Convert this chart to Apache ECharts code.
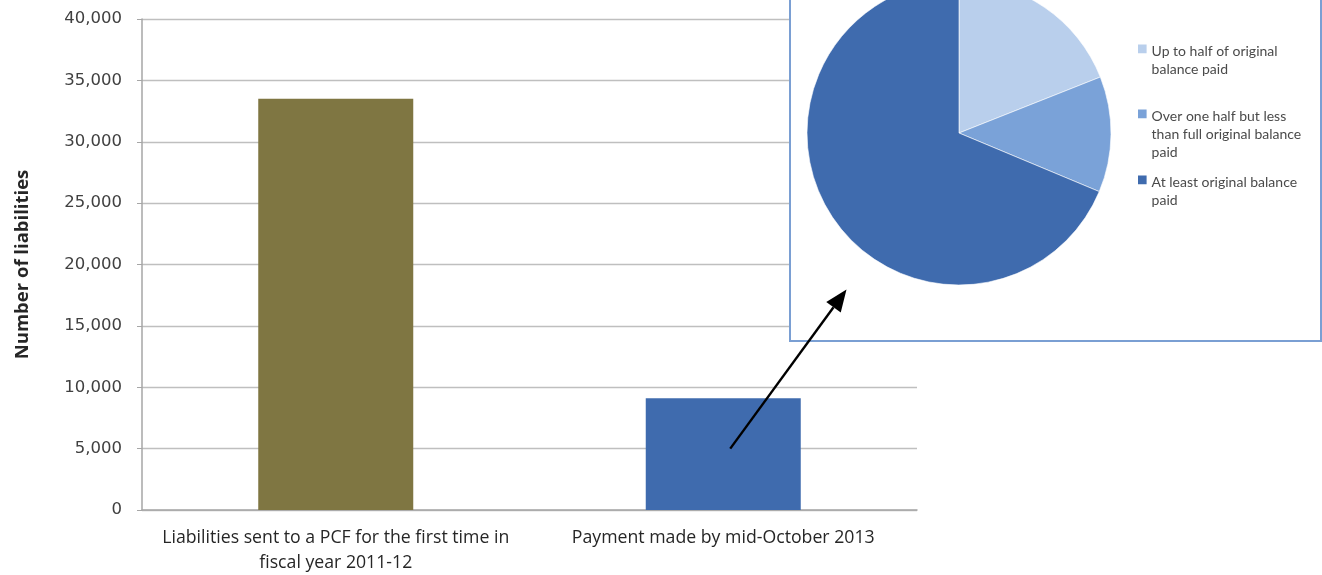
<!DOCTYPE html>
<html>
<head>
<meta charset="utf-8">
<script src="https://cdn.jsdelivr.net/npm/echarts@6/dist/echarts.min.js"></script>
<style>
html,body{margin:0;padding:0;background:#fff;}
#chart{width:1322px;height:575px;}
</style>
</head>
<body>
<div id="chart"></div>
<script>
// ---- data ----
const categories = ['Liabilities sent to a PCF for the first time in\nfiscal year 2011-12', 'Payment made by mid-October 2013'];
const barValues = [33500, 9100];
const yTicks = [0, 5000, 10000, 15000, 20000, 25000, 30000, 35000, 40000];
const pieNames = ['Up to half of original balance paid', 'Over one half but less than full original balance paid', 'At least original balance paid'];
const pieLabels = ['Up to half of original\nbalance paid', 'Over one half but less\nthan full original balance\npaid', 'At least original balance\npaid'];
const pieValues = [19, 12.3, 68.7];
const yAxisName = 'Number of liabilities';

const barColors = ['#7f7642', '#3f6bae'];
const pieColors = ['#b9cfec', '#7aa2d8', '#3f6bae'];

const chart = echarts.init(document.getElementById('chart'));

function legendIcon(lines) {
  const h = lines * 18.2;
  return { icon: 'path://M0,5.1h8.6v8.6h-8.6z M0,' + (h - 0.05) + 'h0.05v0.05h-0.05z', h: h };
}
const legendTops = [42, 107, 173];
const legends = pieNames.map((n, i) => {
  const lines = pieLabels[i].split('\n').length;
  const ic = legendIcon(lines);
  return {
    data: [{ name: n, icon: ic.icon }],
    left: 1138, top: legendTops[i], orient: 'vertical', z: 30,
    itemWidth: 8.6, itemHeight: ic.h, itemGap: 0, padding: 0,
    selectedMode: false,
    itemStyle: { borderWidth: 0 },
    formatter: () => pieLabels[i],
    textStyle: { fontFamily: 'Lato', fontSize: 14, color: '#4a4a4a', lineHeight: 18.2 }
  };
});

const option = {
  animation: false,
  backgroundColor: '#fff',
  grid: { left: 142, right: 405, top: 19, bottom: 64 },
  xAxis: {
    type: 'category',
    data: categories,
    axisLine: { lineStyle: { color: '#a6a6a6', width: 1.5 } },
    axisTick: { show: false },
    axisLabel: { interval: 0, fontFamily: 'Open Sans', fontSize: 17.7, color: '#262626', lineHeight: 25, margin: 15 }
  },
  yAxis: {
    type: 'value', min: yTicks[0], max: yTicks[yTicks.length - 1], interval: 5000,
    name: yAxisName, nameLocation: 'middle', nameGap: 110, nameRotate: 90,
    nameTextStyle: { fontFamily: 'Open Sans', fontSize: 18.5, fontWeight: 'bold', color: '#262626' },
    axisLine: { show: true, lineStyle: { color: '#a6a6a6', width: 1.5 } },
    axisTick: { show: true, length: 5, lineStyle: { color: '#a6a6a6' } },
    axisLabel: { fontFamily: 'DejaVu Sans', fontSize: 16.5, color: '#404040', margin: 20,
      formatter: v => v.toLocaleString('en-US') },
    splitLine: { lineStyle: { color: '#bfbfbf', width: 1.3 } }
  },
  legend: legends,
  series: [
    {
      type: 'bar', data: barValues.map((v, i) => ({ value: v, itemStyle: { color: barColors[i] } })),
      barWidth: '40%', z: 2
    },
    {
      type: 'pie', center: [959, 133], radius: 152, startAngle: 90, clockwise: true,
      data: pieNames.map((n, i) => ({ name: n, value: pieValues[i], itemStyle: { color: pieColors[i] } })),
      label: { show: false }, labelLine: { show: false },
      itemStyle: { borderColor: '#fff', borderWidth: 0.6 },
      emphasis: { disabled: true },
      z: 10
    }
  ]
};
chart.setOption(option);

// inset box and arrow (annotations)
const start = chart.convertToPixel({ xAxisIndex: 0, yAxisIndex: 0 }, [1, 5000]);
const sx = start[0] + 7, sy = start[1];
const tip = [846.5, 289.5];
const ang = Math.atan2(tip[1] - sy, tip[0] - sx);
const hl = 22, hw = 9;
const bx = tip[0] - hl * Math.cos(ang), by = tip[1] - hl * Math.sin(ang);
const px = -Math.sin(ang), py = Math.cos(ang);
chart.setOption({
  graphic: [
    { type: 'rect', z: 5, shape: { x: 790, y: -10, width: 531, height: 351 },
      style: { fill: '#fff', stroke: '#7a9fd3', lineWidth: 2 } },
    { type: 'line', z: 50, shape: { x1: sx, y1: sy, x2: bx, y2: by },
      style: { stroke: '#000', lineWidth: 2.4 } },
    { type: 'polygon', z: 50, shape: { points: [tip, [bx + px * hw, by + py * hw], [bx - px * hw, by - py * hw]] },
      style: { fill: '#000' } }
  ]
});
</script>
</body>
</html>
